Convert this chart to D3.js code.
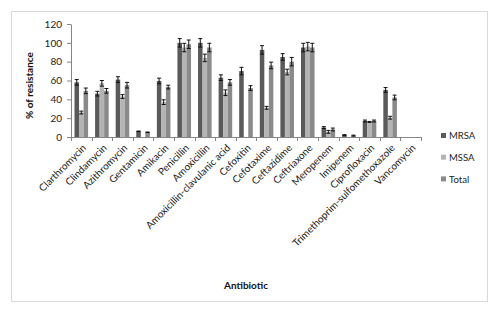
<!DOCTYPE html>
<html>
<head>
<meta charset="utf-8">
<script src="https://cdn.jsdelivr.net/npm/d3@7"></script>
<style>
  body { margin: 0; background: #fff; }
  text { font-family: Lato, "Open Sans", sans-serif; }
</style>
</head>
<body>
<svg id="chart" width="500" height="315"></svg>
<script>
let categories = ["Clarthromycin", "Clindamycin", "Azithromycin", "Gentamicin", "Amikacin",
    "Penicillin", "Amoxicillin", "Amoxicillin-clavulanic acid", "Cefoxitin", "Cefotaxime",
    "Ceftazidime", "Ceftriaxone", "Meropenem", "Imipenem", "Ciprofloxacin",
    "Trimethoprim-sulfomethoxazole", "Vancomycin"];
let mrsa = [58, 46, 61, 6, 59.5, 100, 100, 63, 70, 92.5, 85, 95, 10, 2, 17, 50, 0];
let mssa = [26, 57, 43, 0, 37, 95, 84, 47, 0, 31, 69, 96, 5.5, 0, 16, 20.5, 0];
let total = [49, 49, 55, 5, 53, 98.5, 95, 58, 52, 76, 80, 95, 8, 1.5, 17, 42, 0];
let mrsaErr = [3, 2.5, 3, 0.3, 3, 4.5, 4.5, 3, 4, 4.5, 3.5, 4.5, 1, 0.5, 1, 2.5, 0];
let mssaErr = [1.5, 3, 2, 0, 2.5, 4.5, 4, 3, 0, 1.5, 3, 4.5, 1.5, 0, 0.5, 1.5, 0];
let totalErr = [3, 2.5, 3, 0.3, 2, 4.5, 4.5, 3, 2.5, 3.5, 4.5, 4.5, 1.5, 0.5, 1, 2.5, 0];
let yTicks = [0, 20, 40, 60, 80, 100, 120];
let seriesNames = ["MRSA", "MSSA", "Total"];
let colors = {MRSA: "#5a5a5a", MSSA: "#b4b4b4", Total: "#8a8a8a"};

let margin = {top: 24, right: 79, bottom: 178, left: 71};
let width = 500, height = 315;

let series = [
    {name: "MRSA", values: mrsa, err: mrsaErr},
    {name: "MSSA", values: mssa, err: mssaErr},
    {name: "Total", values: total, err: totalErr}
];

let svg = d3.select('#chart');

// outer frame
svg.append('rect')
    .attr('x', 11.5).attr('y', 11.5)
    .attr('width', 476).attr('height', 290)
    .attr('fill', '#fff')
    .attr('stroke', '#d9d9d9');

let x = d3.scaleBand()
    .domain(categories)
    .range([margin.left, width - margin.right])
    .paddingInner(0.34)
    .paddingOuter(0.17);
let xSub = d3.scaleBand()
    .domain(seriesNames)
    .range([0, x.bandwidth()]);
let y = d3.scaleLinear()
    .domain([0, 120])
    .range([height - margin.bottom, margin.top]);

// y axis
let yAxis = svg.append('g')
    .attr('transform', 'translate(' + margin.left + ',0)')
    .call(d3.axisLeft(y).tickValues(yTicks).tickSize(4).tickSizeOuter(0).tickPadding(5));
yAxis.select('.domain').attr('stroke', '#868686');
yAxis.selectAll('.tick line').attr('stroke', '#868686');
yAxis.selectAll('.tick text')
    .attr('fill', '#222')
    .style('font-size', '10px');

// bars
let groups = svg.append('g')
    .selectAll('g')
    .data(series)
    .enter()
    .append('g')
    .attr('fill', d => colors[d.name]);

groups.selectAll('rect')
    .data(d => d.values.map((v, i) => ({name: d.name, cat: categories[i], v: v})))
    .enter()
    .append('rect')
    .attr('x', d => x(d.cat) + xSub(d.name))
    .attr('y', d => y(d.v))
    .attr('width', xSub.bandwidth())
    .attr('height', d => y(0) - y(d.v));

// error bars
let errData = [];
series.forEach(s => s.values.forEach((v, i) => {
    if (v > 0) errData.push({name: s.name, cat: categories[i], v: v, e: s.err[i]});
}));
let eb = svg.append('g').attr('stroke', '#111').attr('stroke-width', 1);
errData.forEach(d => {
    let cx = x(d.cat) + xSub(d.name) + xSub.bandwidth() / 2;
    let hi = y(d.v + d.e), lo = y(Math.max(0, d.v - d.e));
    eb.append('line').attr('x1', cx).attr('x2', cx).attr('y1', hi).attr('y2', lo);
    eb.append('line').attr('x1', cx - 2).attr('x2', cx + 2).attr('y1', hi).attr('y2', hi);
    eb.append('line').attr('x1', cx - 2).attr('x2', cx + 2).attr('y1', lo).attr('y2', lo);
});

// x axis
let xAxis = svg.append('g');
xAxis.append('line')
    .attr('x1', x.range()[0]).attr('x2', x.range()[1])
    .attr('y1', y(0) + 0.5).attr('y2', y(0) + 0.5)
    .attr('stroke', '#868686');
d3.range(categories.length + 1).forEach(i => {
    let bx = Math.round(x.range()[0] + i * x.step()) + 0.5;
    xAxis.append('line')
        .attr('x1', bx).attr('x2', bx)
        .attr('y1', y(0)).attr('y2', y(0) + 4)
        .attr('stroke', '#868686');
});
xAxis.selectAll('text.cat')
    .data(categories)
    .enter()
    .append('text')
    .attr('class', 'cat')
    .attr('transform', d => 'translate(' + (x(d) + x.bandwidth() / 2 + 3) + ',' + (y(0) + 9) + ') rotate(-45)')
    .attr('text-anchor', 'end')
    .attr('dy', '0.35em')
    .attr('fill', '#222')
    .style('font-size', '10px')
    .text(d => d);

// axis titles
svg.append('text')
    .attr('transform', 'translate(33,' + ((y(0) + y(120)) / 2 + 5) + ') rotate(-90)')
    .attr('text-anchor', 'middle')
    .style('font-size', '10px')
    .style('font-weight', 'bold')
    .attr('fill', '#111')
    .text('% of resistance');
svg.append('text')
    .attr('x', 246).attr('y', 289)
    .attr('text-anchor', 'middle')
    .style('font-size', '10px')
    .style('font-weight', 'bold')
    .attr('fill', '#111')
    .text('Antibiotic');

// legend
let legend = svg.append('g')
    .attr('transform', 'translate(441,136)');
let items = legend.selectAll('g')
    .data(seriesNames)
    .enter()
    .append('g')
    .attr('transform', (d, i) => 'translate(0,' + (i * 21.7) + ')');
items.append('rect')
    .attr('x', 0).attr('y', -3)
    .attr('width', 5).attr('height', 5)
    .attr('fill', d => colors[d]);
items.append('text')
    .attr('x', 8).attr('dy', '0.33em')
    .style('font-size', '9.5px')
    .attr('fill', '#222')
    .text(d => d);
</script>
</body>
</html>
